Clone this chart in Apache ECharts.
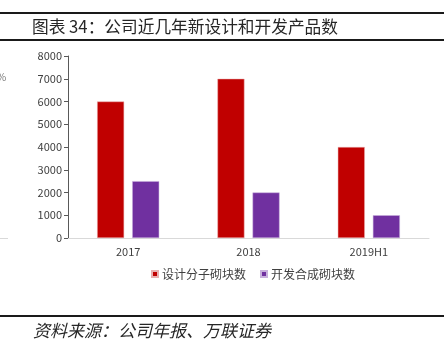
<!DOCTYPE html>
<html>
<head>
<meta charset="utf-8">
<script src="https://cdn.jsdelivr.net/npm/echarts@6/dist/echarts.min.js"></script>
<style>
  html, body { margin: 0; padding: 0; background: #ffffff; }
  #chart { width: 444px; height: 351px; }
</style>
</head>
<body>
<div id="chart"></div>
<script>
// data
const years = ["2017", "2018", "2019H1"];
const designCount = [6000, 7000, 4000];
const developCount = [2500, 2000, 1000];
const seriesNames = ["设计分子砌块数", "开发合成砌块数"];
const yTicks = { min: 0, max: 8000, interval: 1000 };

const titleText = "图表 34：公司近几年新设计和开发产品数";
const sourceText = "资料来源：公司年报、万联证券";

const cjk = '"Noto Sans CJK SC", "Noto Sans", sans-serif';

let myChart = echarts.init(document.getElementById("chart"));
myChart.setOption({
  backgroundColor: "#ffffff",
  animation: false,
  textStyle: { fontFamily: cjk },
  graphic: [
    // top rules around the title
    { type: "rect", shape: { x: 0, y: 12, width: 444, height: 2 }, style: { fill: "#1a1a1a" } },
    { type: "rect", shape: { x: 0, y: 39, width: 444, height: 2 }, style: { fill: "#1a1a1a" } },
    {
      type: "text", left: 32, top: 18,
      style: { text: titleText, font: '16.7px ' + cjk, fill: "#262626" }
    },
    // bits of the neighbouring chart on the left
    { type: "text", left: -3, top: 72, style: { text: "%", font: '10px ' + cjk, fill: "#777" } },
    { type: "rect", shape: { x: 0, y: 238, width: 8, height: 1 }, style: { fill: "#d9d9d9" } },
    // bottom rule + source
    { type: "rect", shape: { x: 0, y: 315, width: 444, height: 2 }, style: { fill: "#1a1a1a" } },
    {
      type: "text", left: 33, top: 322,
      style: { text: sourceText, font: 'italic 17px ' + cjk, fill: "#262626" }
    }
  ],
  grid: { left: 68, right: 15, top: 56, bottom: 113, containLabel: false },
  legend: {
    data: seriesNames,
    left: 146, top: 263,
    itemWidth: 6, itemHeight: 6, itemGap: 14,
    icon: "rect",
    textStyle: { fontSize: 12, color: "#404040", padding: [0, 0, 0, -1] }
  },
  xAxis: {
    type: "category",
    data: years,
    axisLine: { lineStyle: { color: "#d9d9d9", width: 1 } },
    axisTick: { show: false },
    axisLabel: { color: "#404040", fontSize: 11, margin: 8 }
  },
  yAxis: {
    type: "value",
    min: yTicks.min, max: yTicks.max, interval: yTicks.interval,
    axisLine: { show: true, lineStyle: { color: "#595959", width: 1 } },
    axisTick: { show: true, length: 4, lineStyle: { color: "#595959" } },
    splitLine: { show: false },
    axisLabel: { color: "#404040", fontSize: 11, margin: 6, formatter: (v) => String(v) }
  },
  series: [
    {
      name: seriesNames[0],
      type: "bar",
      data: designCount,
      barWidth: 27,
      barGap: "30%",
      itemStyle: { color: "#C00000", borderColor: "#e8b0b0", borderWidth: 0.5 }
    },
    {
      name: seriesNames[1],
      type: "bar",
      data: developCount,
      barWidth: 27,
      itemStyle: { color: "#7030A0", borderColor: "#c8b0dc", borderWidth: 0.5 }
    }
  ]
});
</script>
</body>
</html>
